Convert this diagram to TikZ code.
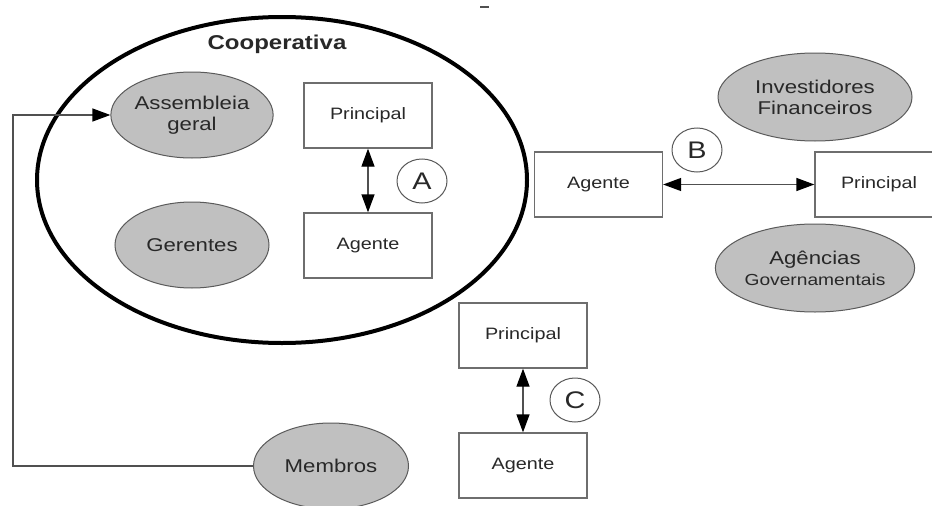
\documentclass[tikz,border=0pt]{standalone}
\usepackage{fontspec}
\setmainfont[FakeStretch=1.2]{Liberation Sans}
\usetikzlibrary{shapes.geometric,arrows.meta}
\definecolor{ellfill}{RGB}{192,192,192}
\definecolor{ellline}{RGB}{90,90,90}
\definecolor{boxline}{RGB}{110,110,110}
\definecolor{txt}{RGB}{40,40,40}
\definecolor{conncol}{RGB}{80,80,80}
\tikzset{
  ellnode/.style={ellipse, draw=ellline, fill=ellfill, line width=1pt, inner sep=0pt,
    minimum width=154pt, minimum height=86pt, align=center, text=txt,
    font=\fontsize{18.5}{21}\selectfont},
  boxnode/.style={rectangle, draw=boxline, fill=white, line width=1.3pt, inner sep=0pt,
    minimum width=128pt, minimum height=65pt, text=txt, font=\fontsize{16.5}{18}\selectfont},
  labnode/.style={ellipse, draw=ellline, fill=white, line width=1pt, inner sep=0pt,
    minimum width=50pt, minimum height=44pt, text=txt, font=\fontsize{24}{24}\selectfont},
  conn/.style={draw=conncol, line width=1.3pt},
  tip/.tip={Triangle[length=18pt,width=13pt,fill=black,color=black]}
}
\begin{document}
\begin{tikzpicture}[x=1pt,y=-1pt]
\useasboundingbox[fill=white] (0,0) rectangle (932,506);
% small dash at top
\draw[line width=1.5pt, color=conncol] (480,7) -- (489,7);
% big ellipse
\node[ellipse, draw=black, line width=4pt, minimum width=490pt, minimum height=326pt, inner sep=0pt] (coop) at (282,180) {};
\node[font=\bfseries\fontsize{20}{24}\selectfont, text=txt] (title) at (277,44) {Cooperativa};
% nodes
\node[ellnode] (asm) at (192,115) {Assembleia\\geral};
\node[ellnode] (ger) at (192,245) {Gerentes};
\node[ellnode, minimum width=155pt] (mem) at (331,466) {Membros};
\node[ellnode, minimum width=194pt, minimum height=88pt] (inv) at (815,97) {Investidores\\Financeiros};
\node[ellnode, minimum width=194pt, minimum height=88pt] (agc) at (815,268) {Agências\\{\fontsize{16}{21}\selectfont Governamentais}};
\node[boxnode] (pa) at (368,115.5) {Principal};
\node[boxnode] (aa) at (368,245.5) {Agente};
\node[boxnode] (ab) at (598.5,184.5) {Agente};
\node[boxnode] (pb) at (879,184.5) {Principal};
\node[boxnode] (pc) at (523,335.5) {Principal};
\node[boxnode] (ac) at (523,465.5) {Agente};
\node[labnode] (la) at (422,181) {A};
\node[labnode] (lb) at (697,150) {B};
\node[labnode] (lc) at (575,400) {C};
% connectors
\coordinate (c1) at (13,466);
\coordinate (c2) at (13,115);
\draw[conn, -{tip}] (mem.west) -- (c1) -- (c2) -- (asm.west);
\draw[conn, {tip}-{tip}] (pa.south) -- (aa.north);
\draw[conn, {tip}-{tip}] (ab.east) -- (pb.west);
\draw[conn, {tip}-{tip}] (pc.south) -- (ac.north);
\end{tikzpicture}
\end{document}
